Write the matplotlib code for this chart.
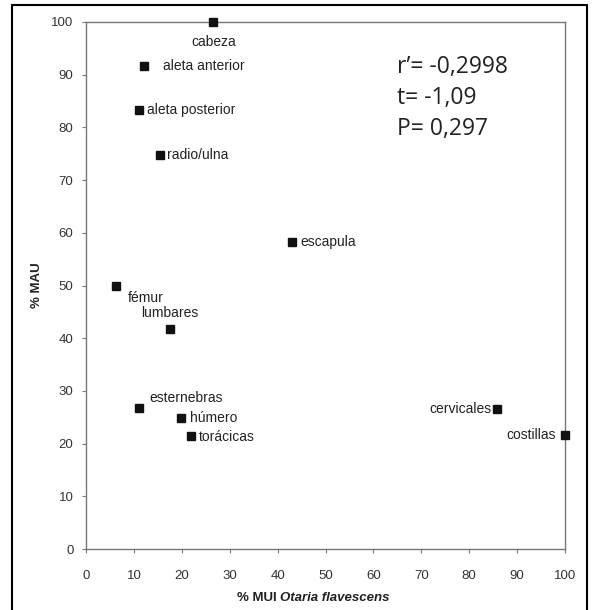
import matplotlib
matplotlib.use("Agg")
import matplotlib.pyplot as plt
from matplotlib.patches import Rectangle

# Data
labels = ["cabeza", "aleta anterior", "aleta posterior", "radio/ulna", "escapula",
          "fémur", "lumbares", "esternebras", "húmero", "torácicas", "cervicales", "costillas"]
mui = [26.5, 12.1, 11.1, 15.4, 43.0, 6.3, 17.5, 11.1, 19.8, 21.9, 85.8, 100.0]
mau = [100.0, 91.7, 83.3, 74.8, 58.3, 49.9, 41.7, 26.8, 24.9, 21.4, 26.6, 21.6]
ticks = [0, 10, 20, 30, 40, 50, 60, 70, 80, 90, 100]
stats = ["r\u2019= -0,2998", "t= -1,09", "P= 0,297"]

# label offsets in pixels (dx, dy, ha, va)
offsets = {
    "cabeza": (1, -20, "center", "center"),
    "aleta anterior": (19, 0, "left", "center"),
    "aleta posterior": (8, 0, "left", "center"),
    "radio/ulna": (7, 0, "left", "center"),
    "escapula": (8, 0, "left", "center"),
    "fémur": (12, -12, "left", "center"),
    "lumbares": (-29, 16, "left", "center"),
    "esternebras": (10, 10, "left", "center"),
    "húmero": (9, 0, "left", "center"),
    "torácicas": (8, -1, "left", "center"),
    "cervicales": (-5, 0, "right", "center"),
    "costillas": (-9, 0, "right", "center"),
}

plt.rcParams["font.family"] = ["Liberation Sans", "DejaVu Sans"]

W, H = 596, 610
fig = plt.figure(figsize=(W / 100, H / 100), dpi=100)
ax = fig.add_axes([86 / W, 1 - 549 / H, (565 - 86) / W, (549 - 22) / H])

ax.plot(mui, mau, linestyle="none", marker="s", markersize=6, color="#111111", clip_on=False, zorder=5)

for lab, x, y in zip(labels, mui, mau):
    dx, dy, ha, va = offsets[lab]
    ax.annotate(lab, (x, y), xytext=(dx, dy), textcoords="offset pixels",
                ha=ha, va=va, fontsize=10, color="#222222")

ax.set_xlim(0, 100)
ax.set_ylim(0, 100)
ax.set_xticks(ticks)
ax.set_yticks(ticks)
ax.tick_params(axis="both", direction="out", length=3, width=0.8, colors="#777777",
               labelsize=9.5, labelcolor="#333333", pad=6)
ax.tick_params(axis="x", pad=12)
for s in ax.spines.values():
    s.set_color("#777777")
    s.set_linewidth(1.0)

ax.set_ylabel("% MAU", fontsize=9.5, fontweight="bold", color="#222222", labelpad=6)

# x label: bold + bold italic
t1 = fig.text(237 / W, 1 - 598 / H, "% MUI ", fontsize=9.5, fontweight="bold",
              color="#222222", ha="left", va="center")
ax.annotate("Otaria flavescens", xy=(1, 0), xycoords=t1, xytext=(0, 0),
            textcoords="offset pixels", ha="left", va="bottom", fontsize=9.5,
            fontweight="bold", fontstyle="italic", color="#222222")

# stats text
for i, s in enumerate(stats):
    fig.text(397 / W, 1 - (67 + 31 * i) / H, s, fontsize=16.5, color="#222222",
             family=["Open Sans", "DejaVu Sans"], ha="left", va="center")

# outer border
fig.patches.append(Rectangle((12 / W, -0.01), (587 - 12) / W, 1 - 5 / H + 0.01,
                             transform=fig.transFigure, fill=False,
                             edgecolor="black", linewidth=1.5))

fig.savefig("out.png", dpi=100)
